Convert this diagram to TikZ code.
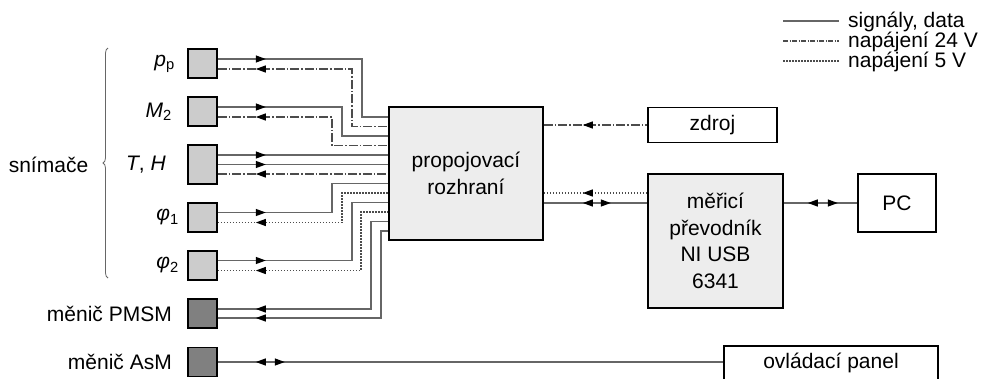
\documentclass[tikz,border=0pt]{standalone}
\usepackage{fontspec}
\setmainfont{Liberation Sans}
\usetikzlibrary{arrows.meta,decorations.markings,decorations.pathreplacing}

\begin{document}
\begin{tikzpicture}[x=1pt,y=-1pt,
  every node/.style={font=\fontsize{21}{26.5}\selectfont, inner sep=0pt},
  sensor/.style={draw=black, line width=1.6pt, fill=black!20, minimum width=29pt, minimum height=29pt},
  drive/.style={sensor, fill=black!50},
  mainbox/.style={draw=black, line width=1.6pt, fill=black!7, align=center},
  plainbox/.style={draw=black, line width=1.3pt, fill=white, align=center},
  wtip/.tip={Triangle[length=10pt,width=7pt,color=black]},
  sig/.style={draw=black!60, line width=1.3pt},
  pow24/.style={draw=black!70, line width=1.2pt, dash pattern=on 9pt off 2pt on 1.5pt off 2pt},
  pow5/.style={draw=black!70, line width=1.2pt, dash pattern=on 1.5pt off 1.5pt},
  fwd/.style={postaction={decorate, decoration={markings, mark=at position #1 with {\arrow{wtip}}}}},
  bwd/.style={postaction={decorate, decoration={markings, mark=at position #1 with {\arrowreversed{wtip}}}}},
]
\clip (0,0) rectangle (988,378);

% sensors and drives
\node[sensor] (pp) at (202.5,63.5) {};
\node[sensor] (m2) at (202.5,111.5) {};
\node[sensor, minimum height=39pt] (th) at (202.5,164.5) {};
\node[sensor] (f1) at (202.5,217.5) {};
\node[sensor] (f2) at (202.5,265.5) {};
\node[drive] (pmsm) at (202.5,313.5) {};
\node[drive] (asm) at (202.5,362) {};

% labels on the left
\node[anchor=east] (lpp) at (175,63.5) {\textit{p}\textsubscript{p}};
\node[anchor=east] (lm2) at (172,111.5) {\textit{M}\textsubscript{2}};
\node[anchor=east] (lth) at (166,164.5) {\textit{T}, \textit{H}};
\node[anchor=east] (lf1) at (179,217.5) {\textit{φ}\textsubscript{1}};
\node[anchor=east] (lf2) at (179,265.5) {\textit{φ}\textsubscript{2}};
\node[anchor=east] (lpmsm) at (172,313.5) {měnič PMSM};
\node[anchor=east] (lasm) at (172,362) {měnič AsM};
\node (snim) at (48.5,165) {snímače};
\draw[black!60, line width=0.8pt, decorate, decoration={brace, amplitude=5pt}] (108,278) -- (108,48);

% main blocks
\node[mainbox, minimum width=154pt, minimum height=133pt] (prop) at (466,173.5) {propojovací\\rozhraní};
\node[mainbox, minimum width=135pt, minimum height=134pt] (meri) at (715.5,241) {měřicí\\převodník\\NI USB\\6341};
\node[plainbox, minimum width=129pt, minimum height=35pt] (zdroj) at (712.5,125) {zdroj};
\node[plainbox, minimum width=78pt, minimum height=58pt] (pc) at (897,203) {PC};
\node[plainbox, minimum width=214pt, minimum height=34pt] (panel) at (831,363) {ovládací panel};

% sensor wiring into the interface
\draw[sig, fwd=48pt] ([yshift=4.5pt]pp.east) -| (362,117) -- (prop.west |- 0,117);
\draw[pow24, bwd=38pt] ([yshift=-5.5pt]pp.east) -| (352,126.5) -- (prop.west |- 0,126.5);
\draw[sig, fwd=48pt] ([yshift=4.5pt]m2.east) -| (342,136) -- (prop.west |- 0,136);
\draw[pow24, bwd=38pt] ([yshift=-5.5pt]m2.east) -| (332,145.5) -- (prop.west |- 0,145.5);
\draw[sig, fwd=48pt] ([yshift=9.5pt]th.east) -- (prop.west |- 0,155);
\draw[sig, fwd=48pt] (th.east) -- (prop.west |- th.east);
\draw[pow24, bwd=38pt] ([yshift=-9.5pt]th.east) -- (prop.west |- 0,174);
\draw[sig, fwd=48pt] ([yshift=5pt]f1.east) -| (332,183.5) -- (prop.west |- 0,183.5);
\draw[pow5, bwd=38pt] ([yshift=-5pt]f1.east) -| (342,193) -- (prop.west |- 0,193);
\draw[sig, fwd=48pt] ([yshift=5pt]f2.east) -| (352,202.5) -- (prop.west |- 0,202.5);
\draw[pow5, bwd=38pt] ([yshift=-5pt]f2.east) -| (361,212) -- (prop.west |- 0,212);
\draw[sig, bwd=38pt] ([yshift=4.5pt]pmsm.east) -| (371,221.5) -- (prop.west |- 0,221.5);
\draw[sig, bwd=38pt] ([yshift=-4.5pt]pmsm.east) -| (381,231) -- (prop.west |- 0,231);

% drive to control panel
\draw[sig, bwd=38pt, fwd=67pt] (asm.east) -- (panel.west |- asm.east);

% right-hand connections
\draw[pow24, bwd=39pt] (prop.east |- zdroj.west) -- (zdroj.west);
\draw[pow5, bwd=39pt] (prop.east |- 0,193) -- (meri.west |- 0,193);
\draw[sig, bwd=39pt, fwd=67pt] (prop.east |- 0,203) -- (meri.west |- 0,203);
\draw[sig, bwd=24pt, fwd=54pt] (meri.east |- pc.west) -- (pc.west);

% legend
\coordinate (la1) at (783,21); \coordinate (lb1) at (839,21);
\coordinate (la2) at (783,41); \coordinate (lb2) at (839,41);
\coordinate (la3) at (783,61); \coordinate (lb3) at (839,61);
\draw[sig] (la1) -- (lb1);
\draw[pow24, dash pattern=on 5pt off 1.5pt on 1pt off 1.5pt] (la2) -- (lb2);
\draw[pow5] (la3) -- (lb3);
\node[anchor=west] (lg1) at (848,22) {signály, data};
\node[anchor=west] (lg2) at (848,42) {napájení 24 V};
\node[anchor=west] (lg3) at (848,62) {napájení 5 V};
\end{tikzpicture}
\end{document}
